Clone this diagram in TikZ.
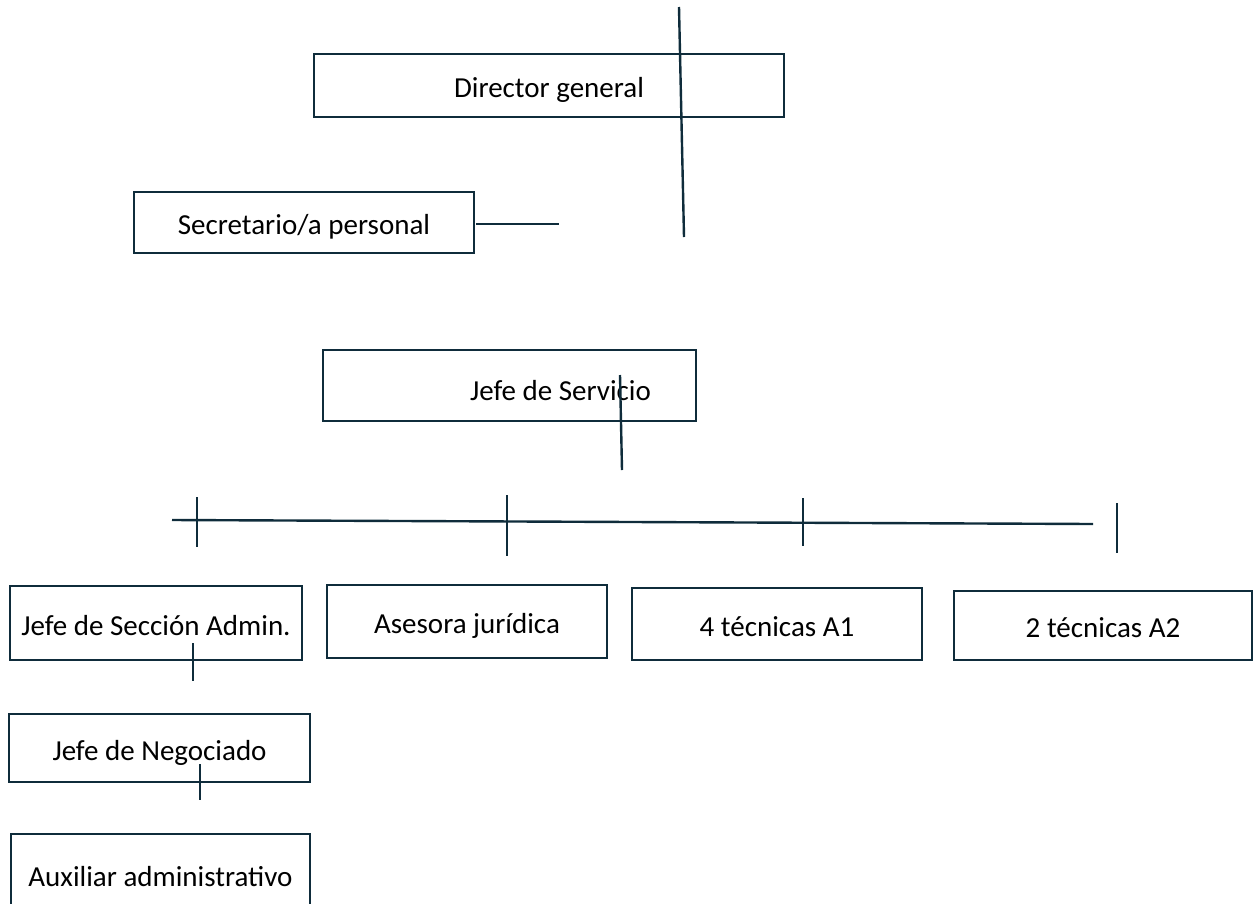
\documentclass[tikz,border=0pt]{standalone}
\usepackage{fontspec}
\setmainfont{Carlito}
\definecolor{linea}{HTML}{0F2C3B}

\begin{document}
\begin{tikzpicture}[x=1pt,y=-1pt,font=\fontsize{29}{33}\selectfont,
	caja/.style={draw=linea,line width=2.8pt,inner sep=0pt,text height=24pt,text depth=0pt},
	traza/.style={draw=linea,line width=2.4pt}]
				\useasboundingbox (0,0) rectangle (1259,903);
				% Cajas
				\node[caja,minimum width=470,minimum height=63] (dg) at (549,85.5) {Director general};
				\node[caja,minimum width=340,minimum height=61] (sec) at (304,222.5) {Secretario/a personal};
				\node[caja,minimum width=373,minimum height=71,label={[xshift=51pt,yshift=-5pt]center:Jefe de Servicio}] (js) at (509.5,385.5) {};
				\node[caja,minimum width=292,minimum height=74] (jsa) at (156,623) {Jefe de Secci\'on Admin.};
				\node[caja,minimum width=280,minimum height=73] (ase) at (467,621.5) {Asesora jur\'idica};
				\node[caja,minimum width=290,minimum height=72] (a1) at (777,624) {4 t\'ecnicas A1};
				\node[caja,minimum width=298,minimum height=69] (a2) at (1103,625.5) {2 t\'ecnicas A2};
				\node[caja,minimum width=301,minimum height=68] (neg) at (159.5,748) {Jefe de Negociado};
				\node[caja,minimum width=299,minimum height=80] (aux) at (160.5,874) {Auxiliar administrativo};
				% Trazos
				\coordinate (dgA) at (679,7);     \coordinate (dgB) at (684,237);
				\coordinate (secA) at (476,224);  \coordinate (secB) at (559,224);
				\coordinate (jsA) at (620,375);   \coordinate (jsB) at (622,470);
				\coordinate (hA) at (172,520);    \coordinate (hB) at (1093,524);
				\draw[traza] (dgA) -- (dgB);
				\draw[traza] (secA) -- (secB);
				\draw[traza] (jsA) -- (jsB);
				\draw[traza] (hA) -- (hB);
				\foreach \x/\ya/\yb in {197/497/547, 507/495/556, 803/498/546, 1117/503/553}
					\draw[traza] (\x,\ya) -- (\x,\yb);
				\coordinate (jsaA) at (193,643);  \coordinate (jsaB) at (193,681);
				\coordinate (negA) at (200,764);  \coordinate (negB) at (200,800);
				\draw[traza] (jsaA) -- (jsaB);
				\draw[traza] (negA) -- (negB);
				\end{tikzpicture}
\end{document}
